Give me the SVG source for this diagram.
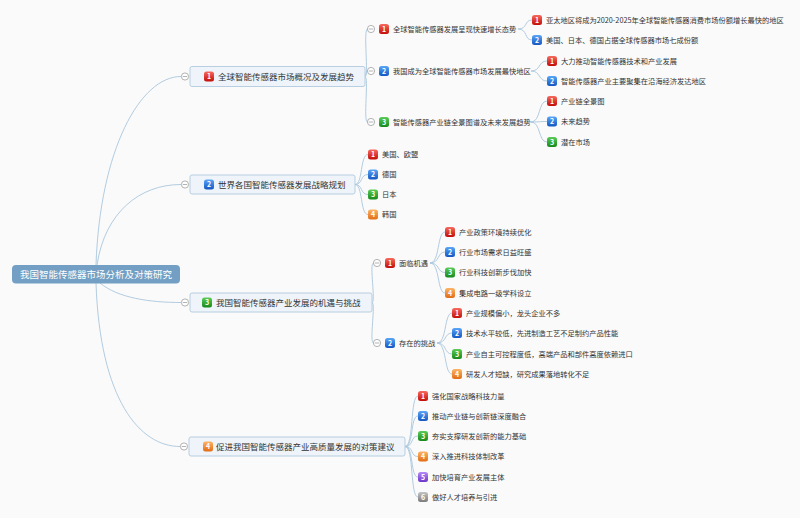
<svg xmlns="http://www.w3.org/2000/svg" width="800" height="518" viewBox="0 0 800 518">
<defs>
<linearGradient id="gr" x1="0" y1="0" x2="0" y2="1"><stop offset="0" stop-color="#f76a5f"/><stop offset="1" stop-color="#c20d08"/></linearGradient>
<linearGradient id="gb" x1="0" y1="0" x2="0" y2="1"><stop offset="0" stop-color="#5aa6f7"/><stop offset="1" stop-color="#1356c2"/></linearGradient>
<linearGradient id="gg" x1="0" y1="0" x2="0" y2="1"><stop offset="0" stop-color="#5ccc58"/><stop offset="1" stop-color="#15891a"/></linearGradient>
<linearGradient id="go" x1="0" y1="0" x2="0" y2="1"><stop offset="0" stop-color="#fcb566"/><stop offset="1" stop-color="#e26c14"/></linearGradient>
<linearGradient id="gp" x1="0" y1="0" x2="0" y2="1"><stop offset="0" stop-color="#b58af7"/><stop offset="1" stop-color="#6b37c8"/></linearGradient>
<linearGradient id="gy" x1="0" y1="0" x2="0" y2="1"><stop offset="0" stop-color="#c4c4c4"/><stop offset="1" stop-color="#7b7b7b"/></linearGradient>
<g id="col"><circle r="3.6" fill="#fff" stroke="#a0a0a0" stroke-width="0.8"/><line x1="-2.2" y1="0" x2="2.2" y2="0" stroke="#a0a0a0" stroke-width="0.8"/></g>
</defs>
<style>
text{font-family:"Noto Sans CJK SC","Noto Sans",sans-serif;}
.t1{font-size:8.5px;fill:#333;}
.t2{font-size:7.25px;fill:#333;}
.tr{font-size:9.5px;fill:#fff;}
.bn{font-size:7px;fill:#fff;text-anchor:middle;font-weight:bold;}
.box{fill:#eef4f9;stroke:#b0c9de;stroke-width:0.9;}
.c{fill:none;stroke:#a9c6dd;stroke-width:0.9;}
</style>
<rect width="800" height="518" fill="#fafafa"/>
<g id="connectors">
<path class="c" d="M96,265 C100,150 140,76.5 181,76.5"/>
<path class="c" d="M97,265 C105,212 140,184.5 181,184.5"/>
<path class="c" d="M100,283 C118,298 150,302.5 181,302.5"/>
<path class="c" d="M96,283 C100,400 140,446.5 180,446.5"/>
<path class="c" d="M365,76.5 C369,76.5 363,29 367.5,29"/>
<path class="c" d="M365,76.5 C367,76.5 365,71 367.5,71"/>
<path class="c" d="M365,76.5 C369,76.5 363,122 367.5,122"/>
<path class="c" d="M518,29 C528,29 524,20 532,20"/>
<path class="c" d="M518,29 C528,29 524,40 532,40"/>
<path class="c" d="M531,71 C541,71 538,61 547,61"/>
<path class="c" d="M531,71 C541,71 538,81 547,81"/>
<path class="c" d="M531,122 C541,122 538,101 547,101"/>
<path class="c" d="M531,122 C541,122 538,121.5 547,121.5"/>
<path class="c" d="M531,122 C541,122 538,142 547,142"/>
<path class="c" d="M355,184.5 C363,184.5 360,154.5 368,154.5"/>
<path class="c" d="M355,184.5 C363,184.5 360,174.5 368,174.5"/>
<path class="c" d="M355,184.5 C363,184.5 360,194.5 368,194.5"/>
<path class="c" d="M355,184.5 C363,184.5 360,214.5 368,214.5"/>
<path class="c" d="M372,302.5 C376,302.5 369,263 373.5,263"/>
<path class="c" d="M372,302.5 C376,302.5 369,343 373.5,343"/>
<path class="c" d="M430,263 C440,263 437,232 445,232"/>
<path class="c" d="M430,263 C440,263 437,252 445,252"/>
<path class="c" d="M430,263 C440,263 437,272.5 445,272.5"/>
<path class="c" d="M430,263 C440,263 437,293 445,293"/>
<path class="c" d="M437,343 C447,343 444,313 452,313"/>
<path class="c" d="M437,343 C447,343 444,333 452,333"/>
<path class="c" d="M437,343 C447,343 444,354 452,354"/>
<path class="c" d="M437,343 C447,343 444,374 452,374"/>
<path class="c" d="M405,446.5 C414,446.5 410,396 418,396"/>
<path class="c" d="M405,446.5 C414,446.5 410,416 418,416"/>
<path class="c" d="M405,446.5 C414,446.5 410,436 418,436"/>
<path class="c" d="M405,446.5 C414,446.5 410,456.5 418,456.5"/>
<path class="c" d="M405,446.5 C414,446.5 410,477 418,477"/>
<path class="c" d="M405,446.5 C414,446.5 410,497 418,497"/>
</g>
<g id="root">
<rect x="12" y="265" width="168" height="18.5" rx="4" fill="#739fc4"/>
<text class="tr" x="96" y="277.8" text-anchor="middle">我国智能传感器市场分析及对策研究</text>
</g>
<g id="n1">
<use href="#col" x="185" y="76.5"/>
<rect class="box" x="190" y="66.5" width="175" height="20" rx="2"/>
<rect x="204" y="71.5" width="10" height="10" rx="2.5" fill="url(#gr)"/><text class="bn" x="209" y="79">1</text>
<text class="t1" x="218" y="79.5">全球智能传感器市场概况及发展趋势</text>
</g>
<g id="n1a">
<use href="#col" x="371" y="29"/>
<rect x="379" y="24" width="10" height="10" rx="2.5" fill="url(#gr)"/><text class="bn" x="384" y="31.5">1</text>
<text class="t2" x="393" y="31.7">全球智能传感器发展呈现快速增长态势</text>
</g>
<g id="n1a1"><rect x="532" y="15" width="10" height="10" rx="2.5" fill="url(#gr)"/><text class="bn" x="537" y="22.5">1</text><text class="t2" x="546" y="22.7">亚太地区将成为2020-2025年全球智能传感器消费市场份额增长最快的地区</text></g>
<g id="n1a2"><rect x="532" y="35" width="10" height="10" rx="2.5" fill="url(#gb)"/><text class="bn" x="537" y="42.5">2</text><text class="t2" x="546" y="42.7">美国、日本、德国占据全球传感器市场七成份额</text></g>
<g id="n1b">
<use href="#col" x="371" y="71"/>
<rect x="379" y="66" width="10" height="10" rx="2.5" fill="url(#gb)"/><text class="bn" x="384" y="73.5">2</text>
<text class="t2" x="393" y="73.7">我国成为全球智能传感器市场发展最快地区</text>
</g>
<g id="n1b1"><rect x="547" y="56" width="10" height="10" rx="2.5" fill="url(#gr)"/><text class="bn" x="552" y="63.5">1</text><text class="t2" x="561" y="63.7">大力推动智能传感器技术和产业发展</text></g>
<g id="n1b2"><rect x="547" y="76" width="10" height="10" rx="2.5" fill="url(#gb)"/><text class="bn" x="552" y="83.5">2</text><text class="t2" x="561" y="83.7">智能传感器产业主要聚集在沿海经济发达地区</text></g>
<g id="n1c">
<use href="#col" x="371" y="122"/>
<rect x="379" y="117" width="10" height="10" rx="2.5" fill="url(#gg)"/><text class="bn" x="384" y="124.5">3</text>
<text class="t2" x="393" y="124.7">智能传感器产业链全景图谱及未来发展趋势</text>
</g>
<g id="n1c1"><rect x="547" y="96" width="10" height="10" rx="2.5" fill="url(#gr)"/><text class="bn" x="552" y="103.5">1</text><text class="t2" x="561" y="103.7">产业链全景图</text></g>
<g id="n1c2"><rect x="547" y="116.5" width="10" height="10" rx="2.5" fill="url(#gb)"/><text class="bn" x="552" y="124">2</text><text class="t2" x="561" y="124.2">未来趋势</text></g>
<g id="n1c3"><rect x="547" y="137" width="10" height="10" rx="2.5" fill="url(#gg)"/><text class="bn" x="552" y="144.5">3</text><text class="t2" x="561" y="144.7">潜在市场</text></g>
<g id="n2">
<use href="#col" x="185" y="184.5"/>
<rect class="box" x="190" y="175" width="165" height="19" rx="2"/>
<rect x="204" y="179.5" width="10" height="10" rx="2.5" fill="url(#gb)"/><text class="bn" x="209" y="187">2</text>
<text class="t1" x="218" y="187.5">世界各国智能传感器发展战略规划</text>
</g>
<g id="n2a"><rect x="368" y="149.5" width="10" height="10" rx="2.5" fill="url(#gr)"/><text class="bn" x="373" y="157">1</text><text class="t2" x="382" y="157.2">美国、欧盟</text></g>
<g id="n2b"><rect x="368" y="169.5" width="10" height="10" rx="2.5" fill="url(#gb)"/><text class="bn" x="373" y="177">2</text><text class="t2" x="382" y="177.2">德国</text></g>
<g id="n2c"><rect x="368" y="189.5" width="10" height="10" rx="2.5" fill="url(#gg)"/><text class="bn" x="373" y="197">3</text><text class="t2" x="382" y="197.2">日本</text></g>
<g id="n2d"><rect x="368" y="209.5" width="10" height="10" rx="2.5" fill="url(#go)"/><text class="bn" x="373" y="217">4</text><text class="t2" x="382" y="217.2">韩国</text></g>
<g id="n3">
<use href="#col" x="185" y="302.5"/>
<rect class="box" x="190" y="293" width="182" height="19" rx="2"/>
<rect x="202" y="297.5" width="10" height="10" rx="2.5" fill="url(#gg)"/><text class="bn" x="207" y="305">3</text>
<text class="t1" x="216" y="305.5">我国智能传感器产业发展的机遇与挑战</text>
</g>
<g id="n3a">
<use href="#col" x="377" y="263"/>
<rect x="385" y="258" width="10" height="10" rx="2.5" fill="url(#gr)"/><text class="bn" x="390" y="265.5">1</text>
<text class="t2" x="399" y="265.7">面临机遇</text>
</g>
<g id="n3a1"><rect x="445" y="227" width="10" height="10" rx="2.5" fill="url(#gr)"/><text class="bn" x="450" y="234.5">1</text><text class="t2" x="459" y="234.7">产业政策环境持续优化</text></g>
<g id="n3a2"><rect x="445" y="247" width="10" height="10" rx="2.5" fill="url(#gb)"/><text class="bn" x="450" y="254.5">2</text><text class="t2" x="459" y="254.7">行业市场需求日益旺盛</text></g>
<g id="n3a3"><rect x="445" y="267.5" width="10" height="10" rx="2.5" fill="url(#gg)"/><text class="bn" x="450" y="275">3</text><text class="t2" x="459" y="275.2">行业科技创新步伐加快</text></g>
<g id="n3a4"><rect x="445" y="288" width="10" height="10" rx="2.5" fill="url(#go)"/><text class="bn" x="450" y="295.5">4</text><text class="t2" x="459" y="295.7">集成电路一级学科设立</text></g>
<g id="n3b">
<use href="#col" x="377" y="343"/>
<rect x="385" y="338" width="10" height="10" rx="2.5" fill="url(#gb)"/><text class="bn" x="390" y="345.5">2</text>
<text class="t2" x="399" y="345.7">存在的挑战</text>
</g>
<g id="n3b1"><rect x="452" y="308" width="10" height="10" rx="2.5" fill="url(#gr)"/><text class="bn" x="457" y="315.5">1</text><text class="t2" x="466" y="315.7">产业规模偏小，龙头企业不多</text></g>
<g id="n3b2"><rect x="452" y="328" width="10" height="10" rx="2.5" fill="url(#gb)"/><text class="bn" x="457" y="335.5">2</text><text class="t2" x="466" y="335.7">技术水平较低，先进制造工艺不足制约产品性能</text></g>
<g id="n3b3"><rect x="452" y="349" width="10" height="10" rx="2.5" fill="url(#gg)"/><text class="bn" x="457" y="356.5">3</text><text class="t2" x="466" y="356.7">产业自主可控程度低，高端产品和部件高度依赖进口</text></g>
<g id="n3b4"><rect x="452" y="369" width="10" height="10" rx="2.5" fill="url(#go)"/><text class="bn" x="457" y="376.5">4</text><text class="t2" x="466" y="376.7">研发人才短缺，研究成果落地转化不足</text></g>
<g id="n4">
<use href="#col" x="184" y="446.5"/>
<rect class="box" x="189" y="437" width="216" height="19" rx="2"/>
<rect x="203" y="441.5" width="10" height="10" rx="2.5" fill="url(#go)"/><text class="bn" x="208" y="449">4</text>
<text class="t1" x="216" y="449.5">促进我国智能传感器产业高质量发展的对策建议</text>
</g>
<g id="n4a"><rect x="418" y="391" width="10" height="10" rx="2.5" fill="url(#gr)"/><text class="bn" x="423" y="398.5">1</text><text class="t2" x="432" y="398.7">强化国家战略科技力量</text></g>
<g id="n4b"><rect x="418" y="411" width="10" height="10" rx="2.5" fill="url(#gb)"/><text class="bn" x="423" y="418.5">2</text><text class="t2" x="432" y="418.7">推动产业链与创新链深度融合</text></g>
<g id="n4c"><rect x="418" y="431" width="10" height="10" rx="2.5" fill="url(#gg)"/><text class="bn" x="423" y="438.5">3</text><text class="t2" x="432" y="438.7">夯实支撑研发创新的能力基础</text></g>
<g id="n4d"><rect x="418" y="451.5" width="10" height="10" rx="2.5" fill="url(#go)"/><text class="bn" x="423" y="459">4</text><text class="t2" x="432" y="459.2">深入推进科技体制改革</text></g>
<g id="n4e"><rect x="418" y="472" width="10" height="10" rx="2.5" fill="url(#gp)"/><text class="bn" x="423" y="479.5">5</text><text class="t2" x="432" y="479.7">加快培育产业发展主体</text></g>
<g id="n4f"><rect x="418" y="492" width="10" height="10" rx="2.5" fill="url(#gy)"/><text class="bn" x="423" y="499.5">6</text><text class="t2" x="432" y="499.7">做好人才培养与引进</text></g>
</svg>
